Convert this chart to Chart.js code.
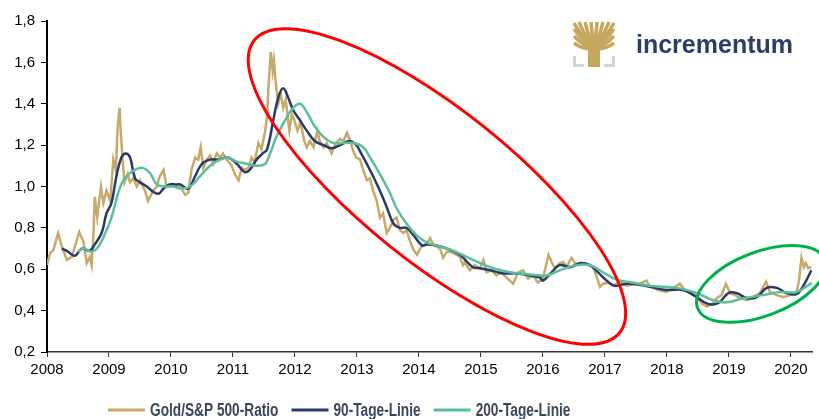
<!DOCTYPE html>
<html>
<head>
<meta charset="utf-8">
<script src="https://cdn.jsdelivr.net/npm/chart.js@4"></script>
<style>
body { margin: 0; background: #fff; }
</style>
</head>
<body>
<canvas id="graf" width="819" height="419"></canvas>
<script>
// Gold/S&P 500-Ratio
const goldAnos = [
    2008.00,2008.05,2008.10,2008.18,2008.24,2008.32,2008.40,2008.45,2008.52,2008.59,2008.64,2008.69,2008.72,2008.75,2008.77,2008.81,2008.87,2008.91,2008.96,
    2009.02,2009.07,2009.11,2009.14,2009.17,2009.19,2009.22,2009.25,2009.30,2009.34,2009.39,2009.45,2009.50,2009.58,2009.63,2009.71,2009.77,2009.82,2009.88,2009.93,
    2010.01,2010.09,2010.15,2010.23,2010.28,2010.33,2010.39,2010.44,2010.48,2010.52,2010.58,2010.63,2010.68,2010.74,2010.79,2010.84,2010.90,2010.98,
    2011.03,2011.09,2011.14,2011.19,2011.25,2011.30,2011.35,2011.41,2011.46,2011.52,2011.55,2011.57,2011.61,2011.64,2011.66,2011.69,2011.73,2011.77,2011.81,2011.85,2011.91,2011.95,2011.99,
    2012.04,2012.09,2012.15,2012.19,2012.24,2012.30,2012.36,2012.40,2012.46,2012.51,2012.59,2012.66,2012.73,2012.78,2012.84,2012.89,2012.94,2012.99,
    2013.05,2013.10,2013.16,2013.21,2013.26,2013.32,2013.37,2013.42,2013.48,2013.53,2013.59,2013.64,2013.69,2013.75,2013.80,2013.85,2013.92,2013.97,
    2014.04,2014.12,2014.18,2014.23,2014.34,2014.39,2014.45,2014.50,2014.61,2014.66,2014.71,2014.74,2014.82,2014.90,2014.98,
    2015.04,2015.09,2015.17,2015.25,2015.33,2015.41,2015.52,2015.60,2015.68,2015.76,2015.84,2015.92,
    2016.00,2016.09,2016.14,2016.19,2016.27,2016.33,2016.38,2016.46,2016.54,2016.62,2016.73,2016.81,2016.87,2016.92,2016.97,
    2017.05,2017.13,2017.24,2017.35,2017.46,2017.56,2017.67,2017.73,2017.86,2017.99,
    2018.10,2018.21,2018.29,2018.37,2018.48,2018.56,2018.64,2018.72,2018.80,2018.88,2018.95,
    2019.02,2019.10,2019.18,2019.29,2019.39,2019.50,2019.60,2019.66,2019.77,2019.88,2019.98,
    2020.09,2020.13,2020.17,2020.21,2020.24,2020.28,2020.33
]
const goldValores = [
    0.62,0.68,0.69,0.775,0.71,0.645,0.66,0.71,0.78,0.73,0.63,0.66,0.62,0.775,0.95,0.85,1.0,0.92,0.98,
    0.93,1.13,1.08,1.29,1.38,1.26,1.13,1.02,1.06,1.02,1.04,1.0,1.03,0.98,0.93,0.98,1.0,1.05,1.08,1.0,
    1.01,1.0,1.0,0.96,0.97,1.08,1.14,1.13,1.19,1.09,1.13,1.15,1.11,1.16,1.14,1.16,1.13,1.10,
    1.06,1.03,1.09,1.08,1.09,1.14,1.12,1.21,1.18,1.27,1.34,1.47,1.65,1.56,1.61,1.50,1.40,1.45,1.38,1.42,1.27,1.35,1.32,
    1.27,1.31,1.22,1.19,1.22,1.19,1.27,1.22,1.19,1.21,1.16,1.21,1.23,1.22,1.26,1.22,1.17,1.14,
    1.13,1.08,1.03,1.04,0.98,0.93,0.85,0.87,0.775,0.80,0.84,0.85,0.79,0.775,0.79,0.74,0.69,0.67,
    0.71,0.72,0.75,0.72,0.70,0.655,0.685,0.685,0.67,0.66,0.62,0.635,0.595,0.62,0.605,
    0.645,0.585,0.595,0.57,0.585,0.56,0.53,0.585,0.595,0.555,0.57,0.535,
    0.555,0.67,0.635,0.605,0.63,0.635,0.61,0.655,0.62,0.63,0.62,0.61,0.56,0.515,0.53,
    0.535,0.52,0.54,0.52,0.53,0.53,0.545,0.515,0.50,0.49,
    0.51,0.53,0.50,0.49,0.465,0.435,0.42,0.43,0.46,0.475,0.53,
    0.485,0.475,0.46,0.45,0.465,0.485,0.54,0.49,0.475,0.465,0.475,
    0.485,0.545,0.655,0.61,0.63,0.605,0.61
]

// 90-Tage-Linie
const ma90Anos = [
    2008.24,2008.34,2008.45,2008.56,2008.69,2008.77,2008.88,2008.96,2009.04,2009.12,2009.20,2009.27,2009.34,2009.42,2009.50,2009.61,2009.71,2009.80,2009.88,2009.98,
    2010.09,2010.15,2010.28,2010.39,2010.50,2010.63,2010.76,2010.92,2011.06,2011.19,2011.27,2011.38,2011.48,2011.55,2011.65,2011.73,2011.81,2011.89,2011.97,
    2012.08,2012.19,2012.32,2012.46,2012.59,2012.73,2012.88,2012.99,2013.05,2013.21,2013.37,2013.48,2013.59,2013.69,2013.80,2013.91,
    2014.05,2014.12,2014.28,2014.45,2014.66,2014.87,2014.98,2015.15,2015.36,2015.58,2015.79,2015.95,2016.00,2016.14,2016.27,2016.44,2016.60,2016.76,2016.89,
    2017.03,2017.16,2017.35,2017.56,2017.73,2017.99,2018.26,2018.48,2018.64,2018.75,2018.85,2018.99,2019.12,2019.29,2019.45,2019.61,2019.77,2019.93,2020.09,2020.20,2020.33
]
const ma90Valores = [
    0.70,0.685,0.665,0.70,0.69,0.72,0.775,0.87,0.92,1.05,1.14,1.16,1.14,1.04,1.02,1.0,0.975,0.965,0.99,1.01,
    1.01,1.01,0.99,1.05,1.11,1.13,1.13,1.14,1.11,1.07,1.08,1.13,1.16,1.18,1.32,1.43,1.475,1.43,1.37,
    1.32,1.27,1.22,1.20,1.185,1.20,1.22,1.20,1.17,1.08,0.98,0.90,0.82,0.80,0.80,0.765,
    0.715,0.72,0.715,0.70,0.67,0.61,0.605,0.595,0.58,0.58,0.57,0.56,0.545,0.585,0.62,0.61,0.63,0.62,0.585,
    0.545,0.52,0.53,0.525,0.515,0.50,0.50,0.465,0.435,0.43,0.44,0.485,0.485,0.46,0.465,0.51,0.51,0.485,0.48,0.52,0.595
]

// 200-Tage-Linie
const ma200Anos = [
    2008.50,2008.59,2008.72,2008.83,2008.94,2009.04,2009.15,2009.23,2009.34,2009.45,2009.55,2009.66,2009.77,2009.88,
    2010.04,2010.15,2010.31,2010.47,2010.63,2010.79,2010.92,2011.06,2011.22,2011.38,2011.52,2011.60,2011.70,2011.87,2011.97,
    2012.08,2012.19,2012.32,2012.46,2012.62,2012.78,2012.94,2013.10,2013.21,2013.37,2013.53,2013.64,2013.80,2013.96,
    2014.12,2014.34,2014.55,2014.80,2015.15,2015.47,2015.79,2016.06,2016.27,2016.54,2016.76,2016.97,
    2017.19,2017.46,2017.73,2018.16,2018.48,2018.75,2018.96,2019.23,2019.55,2019.82,2020.09,2020.34
]
const ma200Valores = [
    0.685,0.70,0.685,0.71,0.775,0.85,0.97,1.03,1.065,1.085,1.09,1.065,1.01,1.0,
    1.0,0.99,1.0,1.05,1.10,1.13,1.14,1.12,1.11,1.10,1.11,1.16,1.24,1.335,1.38,
    1.40,1.36,1.29,1.24,1.21,1.21,1.21,1.19,1.14,1.06,0.97,0.895,0.82,0.765,
    0.73,0.71,0.69,0.655,0.61,0.585,0.575,0.57,0.595,0.62,0.62,0.585,
    0.55,0.535,0.52,0.51,0.485,0.45,0.44,0.46,0.475,0.49,0.49,0.535
]

const yTicks = [0.2, 0.4, 0.6, 0.8, 1.0, 1.2, 1.4, 1.6, 1.8]
const xTicks = [2008, 2009, 2010, 2011, 2012, 2013, 2014, 2015, 2016, 2017, 2018, 2019, 2020]

const juntar = (anos, valores) => anos.map((a, i) => ({ x: a, y: valores[i] }))

// Markierungen (Mittelpunkt in Datenwerten, Radien in Pixeln)
const elipses = [
    { ano: 2014.29, valor: 1.0, rx: 234, ry: 76, rot: 38.7, cor: '#ff0000' },
    { ano: 2019.52, valor: 0.529, rx: 68, ry: 32, rot: -20.7, cor: '#00b050' }
]

const marcas = {
    id: 'marcas',
    afterDatasetsDraw(chart) {
        const ctx = chart.ctx
        const sx = chart.scales.x
        const sy = chart.scales.y
        ctx.save()
        elipses.forEach(e => {
            ctx.beginPath()
            ctx.ellipse(sx.getPixelForValue(e.ano), sy.getPixelForValue(e.valor), e.rx, e.ry, e.rot * Math.PI / 180, 0, Math.PI * 2)
            ctx.strokeStyle = e.cor
            ctx.lineWidth = 3
            ctx.stroke()
        })
        ctx.restore()
    },
    afterDraw(chart) {
        const ctx = chart.ctx
        ctx.save()
        // Logo
        ctx.strokeStyle = '#c6a75e'
        ctx.fillStyle = '#c6a75e'
        ctx.lineCap = 'butt'
        ctx.fillRect(588, 40, 12, 27)
        const ramos = [[574, 23], [579, 22], [585, 22], [591, 22], [597, 22], [603, 22], [609, 22], [614, 23], [574, 29], [614, 29], [574, 36], [614, 36], [574, 43], [614, 43]]
        ramos.forEach(r => {
            ctx.beginPath()
            ctx.moveTo(594, 48)
            ctx.quadraticCurveTo((594 + r[0]) / 2, (48 + r[1]) / 2 + 5, r[0], r[1])
            ctx.lineWidth = 3.5
            ctx.stroke()
        })
        ctx.strokeStyle = '#d4d4d4'
        ctx.lineWidth = 3
        ctx.beginPath()
        ctx.moveTo(574.5, 56); ctx.lineTo(574.5, 65.5); ctx.lineTo(584, 65.5)
        ctx.moveTo(613.5, 56); ctx.lineTo(613.5, 65.5); ctx.lineTo(604, 65.5)
        ctx.stroke()
        ctx.fillStyle = '#2c3d6b'
        ctx.font = 'bold 25px "Liberation Sans", Arial'
        ctx.textBaseline = 'alphabetic'
        ctx.fillText('incrementum', 636, 53)

        // Legende (schmale Schrift durch horizontale Stauchung)
        const enge = 0.76
        ctx.font = 'bold 18px "Liberation Sans", Arial'
        ctx.textBaseline = 'middle'
        let x = 108
        chart.data.datasets.forEach(ds => {
            ctx.beginPath()
            ctx.moveTo(x, 410)
            ctx.lineTo(x + 37, 410)
            ctx.strokeStyle = ds.borderColor
            ctx.lineWidth = 3
            ctx.stroke()
            const tx = x + 42
            ctx.save()
            ctx.translate(tx, 411)
            ctx.scale(enge, 1)
            ctx.fillStyle = '#3a475a'
            ctx.fillText(ds.label, 0, 0)
            ctx.restore()
            x = tx + ctx.measureText(ds.label).width * enge + 13
        })
        ctx.restore()
    }
}

const graf = document.getElementById('graf')
const myChart = new Chart(graf, {
    type: 'line',
    data: {
        datasets: [
            {
                label: 'Gold/S&P 500-Ratio',
                data: juntar(goldAnos, goldValores),
                borderColor: '#c6a96b',
                borderWidth: 2.5,
                pointRadius: 0,
                tension: 0,
                order: 3
            },
            {
                label: '90-Tage-Linie',
                data: juntar(ma90Anos, ma90Valores),
                borderColor: '#273a6a',
                borderWidth: 2.5,
                pointRadius: 0,
                tension: 0.4,
                order: 2
            },
            {
                label: '200-Tage-Linie',
                data: juntar(ma200Anos, ma200Valores),
                borderColor: '#5cbf9a',
                borderWidth: 2.5,
                pointRadius: 0,
                tension: 0.4,
                order: 1
            }
        ]
    },
    options: {
        responsive: false,
        animation: false,
        layout: {
            padding: { top: 21, right: 7, bottom: 0, left: 0 }
        },
        plugins: {
            legend: { display: false },
            tooltip: { enabled: false }
        },
        scales: {
            x: {
                type: 'linear',
                min: 2008,
                max: 2020.34,
                afterBuildTicks: s => { s.ticks = xTicks.map(v => ({ value: v })) },
                afterFit: s => { s.height = 67 },
                border: { color: '#333', width: 1.5 },
                grid: { drawOnChartArea: false, drawTicks: true, tickLength: 5, color: '#333' },
                ticks: {
                    padding: 4,
                    color: '#000',
                    font: { family: '"Liberation Sans", Arial', size: 15 },
                    callback: v => String(v),
                    maxRotation: 0
                }
            },
            y: {
                min: 0.2,
                max: 1.8,
                afterBuildTicks: s => { s.ticks = yTicks.map(v => ({ value: v })) },
                afterFit: s => { s.width = 47 },
                border: { color: '#000', width: 2 },
                grid: { drawOnChartArea: false, drawTicks: true, tickLength: 6, color: '#000' },
                ticks: {
                    padding: 6,
                    color: '#000',
                    font: { family: '"Liberation Sans", Arial', size: 15 },
                    callback: v => v.toFixed(1).replace('.', ',')
                }
            }
        }
    },
    plugins: [marcas]
})
</script>
</body>
</html>
